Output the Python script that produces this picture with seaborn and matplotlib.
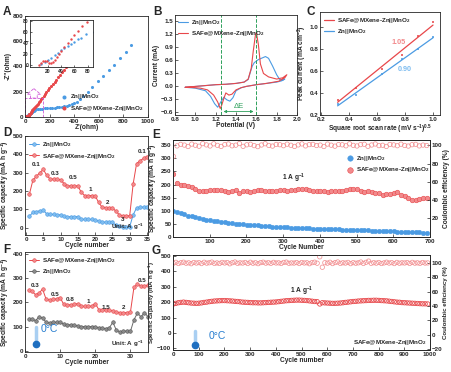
import numpy as np
import pandas as pd
import matplotlib
matplotlib.use("Agg")
import matplotlib.pyplot as plt
import seaborn as sns
from matplotlib.patches import Rectangle, FancyArrow
from matplotlib.lines import Line2D

# ---------------- data ----------------
# A : Nyquist
a_zn_x = [10, 15, 20, 25, 30, 35, 40, 45, 50, 55, 60, 65, 70, 78, 90, 105, 120, 140, 160, 180,
          200, 220, 240, 260, 280, 300, 320, 340, 360, 380, 400, 420, 445, 475, 510, 548,
          590, 635, 680, 725, 775, 820, 862]
a_zn_y = [2, 6, 10, 14, 18, 22, 27, 31, 35, 39, 43, 47, 50, 56, 60, 63, 65, 67, 68, 69,
          70, 72, 74, 76, 79, 82, 86, 91, 97, 104, 112, 122, 140, 165, 200, 240,
          282, 325, 370, 415, 465, 515, 571]
a_sa_x = [6, 9, 12, 15, 18, 21, 24, 27, 30, 33, 36, 40, 45, 50, 55, 60, 66, 72, 79, 86, 94,
          102, 111, 120, 130, 140, 151, 162, 174, 186, 199, 212, 226, 240, 255, 270, 286,
          302, 319, 336, 354, 372, 391, 410]
a_sa_y = [1, 5, 7, 8, 7, 5, 4, 6, 10, 15, 20, 26, 33, 40, 47, 55, 63, 72, 78, 85, 95,
          105, 116, 127, 139, 152, 166, 180, 195, 210, 226, 242, 259, 277, 295, 314, 334,
          354, 375, 396, 418, 440, 464, 488]

# B : CV curves (closed loops)
b_zn_v = [0.90, 1.00, 1.10, 1.20, 1.30, 1.40, 1.48, 1.52, 1.54, 1.56, 1.58, 1.62, 1.66, 1.69,
          1.72, 1.76, 1.80, 1.83, 1.86, 1.88, 1.85, 1.80, 1.70, 1.60, 1.50, 1.45, 1.40, 1.37,
          1.34, 1.31, 1.28, 1.25, 1.22, 1.19, 1.15, 1.10, 1.00, 0.90]
b_zn_i = [-0.04, -0.02, 0.00, 0.02, 0.03, 0.05, 0.08, 0.14, 0.30, 0.45, 0.53, 0.60, 0.64, 0.67,
          0.63, 0.45, 0.25, 0.14, 0.13, 0.15, 0.11, 0.08, 0.05, 0.02, -0.02, -0.05, -0.12, -0.28,
          -0.36, -0.33, -0.27, -0.38, -0.50, -0.42, -0.25, -0.12, -0.06, -0.04]
b_sa_v = [0.90, 1.00, 1.10, 1.20, 1.30, 1.40, 1.48, 1.52, 1.55, 1.57, 1.59, 1.60, 1.62, 1.64,
          1.67, 1.72, 1.80, 1.86, 1.90, 1.88, 1.82, 1.70, 1.60, 1.50, 1.45, 1.40, 1.36, 1.33,
          1.30, 1.28, 1.26, 1.245, 1.22, 1.18, 1.12, 1.05, 0.95, 0.90]
b_sa_i = [-0.04, -0.02, 0.00, 0.02, 0.03, 0.05, 0.08, 0.15, 0.40, 0.80, 1.15, 1.23, 0.95, 0.50,
          0.28, 0.20, 0.15, 0.18, 0.25, 0.18, 0.10, 0.05, 0.02, -0.02, -0.05, -0.10, -0.20, -0.22,
          -0.17, -0.30, -0.45, -0.53, -0.38, -0.22, -0.10, -0.06, -0.04, -0.04]
b_peaks = [1.25, 1.60]

# C : peak current vs sqrt scan rate
c_x = [0.316, 0.447, 0.632, 0.775, 0.894, 1.0]
c_sa = [0.34, 0.45, 0.62, 0.75, 0.92, 1.05]
c_zn = [0.30, 0.38, 0.57, 0.71, 0.80, 0.91]

# D : rate performance
d_cyc = list(range(1, 36))
d_zn = [63, 83, 88, 92, 95, 75, 72, 72, 70, 70, 62, 60, 60, 60, 60, 45, 45, 45, 45, 44,
        35, 30, 30, 30, 30, 12, 8, 5, 5, 5, 70, 108, 112, 112, 115]
d_sa = [185, 260, 280, 300, 318, 285, 265, 265, 263, 262, 240, 228, 228, 228, 228,
        192, 175, 175, 175, 174, 138, 112, 110, 110, 108, 90, 70, 65, 65, 65,
        238, 350, 365, 378, 388]
d_rates = ["0.1", "0.3", "0.5", "1", "2", "3", "0.1"]
d_rate_pos = [(3, 345), (8.5, 293), (13.5, 272), (18.5, 210), (23.5, 137), (28, 45), (33.6, 415)]

# E : long cycling 1 A/g
e_cyc = list(range(1, 701, 10))
e_sa = [240, 205, 200, 198, 195, 190, 185, 176, 175, 177,
        180, 178, 181, 178, 175, 172, 176, 178, 168, 176,
        174, 173, 176, 179, 178, 176, 174, 176, 175, 178,
        179, 177, 180, 180, 182, 185, 184, 180, 177, 175,
        176, 174, 172, 175, 176, 174, 176, 180, 183, 185,
        182, 175, 170, 176, 172, 166, 168, 162, 163, 165,
        168, 170, 162, 155, 150, 143, 140, 146, 150, 147]
e_zn = [100, 95, 90, 86, 82, 79, 76, 72, 69, 66,
        63, 61, 60, 58, 57, 55, 53, 51, 50, 48,
        47, 46, 45, 44, 43, 42, 41, 40, 39, 38,
        38, 37, 36, 35, 35, 34, 33, 33, 32, 32,
        31, 31, 30, 30, 29, 29, 28, 28, 27, 27,
        26, 26, 25, 25, 24, 24, 23, 23, 22, 21,
        21, 20, 20, 19, 19, 18, 18, 18, 17, 17]
e_ce = [88, 99.5, 101.2, 100.4, 98.8, 101.5, 100.2, 99.1, 102.0, 100.6,
        99.4, 101.8, 100.1, 98.9, 100.9, 101.6, 99.6, 100.3, 102.1, 99.0,
        100.7, 101.3, 99.8, 98.7, 100.5, 101.9, 100.0, 99.3, 101.1, 100.8,
        99.7, 101.4, 100.2, 98.9, 100.6, 101.7, 99.5, 100.9, 101.2, 99.9,
        100.4, 98.8, 101.5, 100.3, 99.2, 101.0, 100.7, 99.6, 101.8, 100.1,
        99.4, 100.9, 101.3, 99.0, 100.5, 101.6, 99.8, 100.2, 98.9, 101.1,
        100.6, 99.7, 101.4, 100.0, 99.3, 100.8, 101.2, 99.5, 100.4, 99.9]

# F : rate performance at 0 C
f_cyc = list(range(1, 36))
f_sa = [250, 245, 232, 238, 255, 213, 210, 212, 215, 220, 192, 190, 190, 192, 195,
        185, 183, 183, 185, 195, 170, 168, 168, 167, 165, 160, 158, 157, 158, 160,
        262, 275, 268, 267, 270]
f_zn = [130, 130, 125, 140, 135, 118, 115, 118, 117, 117, 110, 108, 107, 105, 103,
        100, 100, 100, 100, 100, 95, 93, 92, 95, 118, 85, 78, 80, 82, 80,
        128, 156, 140, 158, 140]
f_rates = ["0.3", "0.5", "0.8", "1", "1.5", "2", "0.5"]
f_rate_pos = [(3, 270), (8.5, 233), (13, 211), (18, 205), (23, 180), (28, 180), (33.3, 292)]

# G : long cycling at 0 C
g_cyc = list(range(1, 1001, 10))
g_sa = [188, 192, 196, 198, 200, 198, 196, 194, 193, 192,
        193, 195, 198, 200, 203, 205, 207, 208, 209, 210,
        210, 209, 208, 207, 205, 204, 202, 200, 199, 198,
        197, 196, 196, 195, 195, 196, 197, 198, 199, 200,
        201, 203, 205, 207, 209, 210, 211, 212, 213, 213,
        212, 211, 210, 208, 206, 204, 203, 188, 196, 195,
        194, 193, 192, 192, 193, 194, 196, 198, 200, 202,
        204, 205, 207, 208, 209, 210, 211, 211, 212, 212,
        211, 210, 209, 208, 206, 204, 202, 200, 199, 197,
        196, 195, 194, 193, 192, 191, 190, 189, 189, 188]
g_ce = [99.5, 100.8, 99.2, 100.3, 101.0, 99.6, 100.1, 98.9, 100.6, 99.8,
        100.4, 99.1, 100.9, 99.7, 100.2, 101.1, 99.4, 100.0, 99.3, 100.7,
        99.9, 100.5, 98.8, 100.3, 101.2, 99.5, 100.1, 99.8, 100.6, 99.2,
        100.9, 99.6, 100.2, 99.0, 100.4, 101.0, 99.7, 100.3, 99.4, 100.8,
        99.9, 100.1, 99.3, 100.7, 101.1, 99.5, 100.0, 99.8, 100.5, 99.2,
        100.6, 99.9, 100.2, 98.9, 100.4, 101.0, 99.6, 108.5, 94.0, 100.3,
        99.7, 100.9, 99.1, 100.5, 101.3, 99.4, 100.2, 99.8, 100.7, 99.0,
        100.4, 99.6, 100.1, 101.2, 99.3, 100.8, 102.5, 99.5, 100.3, 99.7,
        100.6, 99.2, 100.0, 101.0, 99.8, 100.4, 99.1, 100.7, 99.6, 100.2,
        99.9, 100.5, 99.3, 100.8, 99.7, 100.1, 99.4, 100.6, 99.8, 100.0]

# ---------------- style ----------------
sns.set_style("ticks")
plt.rcParams['font.family'] = ['Liberation Sans', 'DejaVu Sans']
plt.rcParams['font.weight'] = 'bold'
plt.rcParams['axes.labelweight'] = 'bold'
plt.rcParams['mathtext.default'] = 'regular'
plt.rcParams['axes.linewidth'] = 0.6

RED = "#e8474a"
RED_F = "#f28a8c"
BLUE = "#4b9be3"
BLUE_F = "#7fbdf0"
GREEN = "#2ca05a"
GRAY = "#6b6b6b"
FS = 4.5
LFS = 4.8
ZN = "Zn||MnO$_2$"
SA = "SAFe@MXene-Zn||MnO$_2$"
CAP = "Specific capacity (mA h g$^{-1}$)"
CE = "Coulombic efficiency (%)"

W, H = 451, 372
fig = plt.figure(figsize=(W / 100, H / 100), dpi=100)


def px_axes(l, t, r, b):
    return fig.add_axes([l / W, 1 - b / H, (r - l) / W, (b - t) / H])


def style(ax):
    ax.tick_params(direction='in', length=2, width=0.5, labelsize=FS, pad=1.2)
    for s in ax.spines.values():
        s.set_linewidth(0.6)
    ax.xaxis.label.set_size(LFS)
    ax.yaxis.label.set_size(LFS)
    ax.xaxis.labelpad = 0.5
    ax.yaxis.labelpad = 0.5


def legend(ax, **kw):
    opts = dict(frameon=False, fontsize=FS, handlelength=1.6, handletextpad=0.5,
                labelspacing=0.35, borderaxespad=0.3)
    opts.update(kw)
    return ax.legend(**opts)


# ---------------- A ----------------
ax = px_axes(25, 16, 148, 117)
sns.scatterplot(x=a_zn_x, y=a_zn_y, ax=ax, color=BLUE, s=5, linewidth=0, label=ZN)
sns.scatterplot(x=a_sa_x, y=a_sa_y, ax=ax, color=RED, s=5, linewidth=0, label=SA)
ax.set_xlim(0, 1000)
ax.set_ylim(0, 800)
ax.set_xticks([0, 200, 400, 600, 800, 1000])
ax.set_yticks([0, 200, 400, 600, 800])
ax.set_xlabel("Z'(ohm)")
ax.set_ylabel("-Z''(ohm)")
ax.add_patch(Rectangle((0, 0), 145, 150, fill=False, ls='--', lw=0.6, ec='#d05ad8'))
ax.add_patch(FancyArrow(72, 150, 0, 75, width=55, head_width=110, head_length=45,
                        fill=False, ls='--', lw=0.6, ec='#d05ad8', length_includes_head=True))
style(ax)
legend(ax, loc='lower right', markerscale=1.3, handlelength=1.0)

ins = px_axes(30, 20, 93, 67)
sns.scatterplot(x=a_zn_x, y=a_zn_y, ax=ins, color=BLUE, s=3, linewidth=0, legend=False)
sns.scatterplot(x=a_sa_x, y=a_sa_y, ax=ins, color=RED, s=3, linewidth=0, legend=False)
ins.set_xlim(-7, 88)
ins.set_ylim(-3, 82)
ins.set_xticks([20, 40, 60, 80])
ins.set_yticks([0, 20, 40, 60, 80])
style(ins)
ins.tick_params(labelsize=3.6, length=1.5)

# ---------------- B ----------------
ax = px_axes(175, 15, 297, 115)
ax.plot(b_zn_v, b_zn_i, color=BLUE, lw=0.8, label=ZN)
ax.plot(b_sa_v, b_sa_i, color=RED, lw=0.8, label=SA)
for v in b_peaks:
    ax.axvline(v, color=GREEN, ls='--', lw=0.7)
ax.annotate("", xy=(b_peaks[1], -0.6), xytext=(b_peaks[0], -0.6),
            arrowprops=dict(arrowstyle='<|-|>', color=GREEN, lw=0.6, mutation_scale=4))
ax.text(sum(b_peaks) / 2, -0.56, "ΔE", color=GREEN, fontsize=5.5, ha='center', va='bottom',
        fontweight='normal')
ax.set_xlim(0.8, 2.0)
ax.set_ylim(-0.68, 1.63)
ax.set_xticks([0.8, 1.0, 1.2, 1.4, 1.6, 1.8, 2.0])
ax.set_yticks([-0.6, -0.3, 0.0, 0.3, 0.6, 0.9, 1.2, 1.5])
ax.set_xlabel("Potential (V)")
ax.set_ylabel("Current (mA)")
style(ax)
legend(ax, loc='upper left', borderaxespad=0.1)

# ---------------- C ----------------
ax = px_axes(320, 12, 440, 115)
sns.regplot(x=c_x, y=c_sa, ax=ax, ci=None, marker='s', color=RED,
            scatter_kws=dict(s=4, linewidths=0), line_kws=dict(lw=0.9))
sns.regplot(x=c_x, y=c_zn, ax=ax, ci=None, marker='s', color=BLUE,
            scatter_kws=dict(s=4, linewidths=0), line_kws=dict(lw=0.9))
ax.text(0.75, 0.85, "1.05", color=RED_F, fontsize=5.2, ha='center')
ax.text(0.80, 0.60, "0.90", color=BLUE_F, fontsize=5.2, ha='center')
ax.set_xlim(0.19, 1.05)
ax.set_ylim(0.2, 1.14)
ax.set_xticks([0.2, 0.4, 0.6, 0.8, 1.0])
ax.set_yticks([0.2, 0.4, 0.6, 0.8, 1.0])
ax.set_xlabel("Square root scan rate (mV s$^{-1}$)$^{0.5}$")
ax.set_ylabel("Peak current (mA cm$^{-2}$)")
style(ax)
legend(ax, handles=[Line2D([], [], color=RED, lw=0.9), Line2D([], [], color=BLUE, lw=0.9)],
       labels=[SA, ZN], loc='upper left', borderaxespad=0.2)

# ---------------- D ----------------
ax = px_axes(25, 136, 148, 235)
sns.lineplot(x=d_cyc, y=d_zn, ax=ax, color=BLUE, lw=0.7, marker='o', ms=2.6,
             mfc=BLUE_F, mec=BLUE, mew=0.4, label=ZN)
sns.lineplot(x=d_cyc, y=d_sa, ax=ax, color=RED, lw=0.7, marker='o', ms=2.6,
             mfc=RED_F, mec=RED, mew=0.4, label=SA)
for t, (x, y) in zip(d_rates, d_rate_pos):
    ax.text(x, y, t, fontsize=FS, ha='center', va='center')
ax.text(0.97, 0.06, "Unit: A g$^{-1}$", transform=ax.transAxes, fontsize=FS, ha='right')
ax.set_xlim(-0.3, 35.3)
ax.set_ylim(-40, 500)
ax.set_xticks(range(0, 36, 5))
ax.set_yticks(range(0, 501, 100))
ax.set_xlabel("Cycle number")
ax.set_ylabel(CAP)
style(ax)
legend(ax, loc='upper left', borderaxespad=0.3)

# ---------------- E ----------------
ax = px_axes(173, 140, 430, 237)
ax2 = ax.twinx()
sns.scatterplot(x=e_cyc, y=e_ce, ax=ax2, s=10, marker='o', facecolor='none',
                edgecolor=RED_F, linewidth=0.5, legend=False)
sns.scatterplot(x=e_cyc, y=e_zn, ax=ax, s=11, color=BLUE, edgecolor=BLUE, linewidth=0.3,
                label=ZN)
sns.scatterplot(x=e_cyc, y=e_sa, ax=ax, s=11, color=RED_F, edgecolor=RED, linewidth=0.4,
                label=SA)
ax.text(330, 200, "1 A g$^{-1}$", fontsize=LFS, ha='center', va='bottom')
ax.set_xlim(0, 700)
ax.set_ylim(0, 370)
ax2.set_ylim(-1, 106)
ax.set_xticks(range(100, 701, 100))
ax.set_yticks(range(0, 351, 50))
ax2.set_yticks([20, 40, 60, 80, 100])
ax.set_xlabel("Cycle Number")
ax.set_ylabel(CAP)
ax2.set_ylabel(CE)
style(ax)
style(ax2)
legend(ax, loc='upper left', bbox_to_anchor=(0.66, 0.9), markerscale=1.2, handlelength=1.0)

# ---------------- F ----------------
ax = px_axes(25, 252, 148, 352)
sns.lineplot(x=f_cyc, y=f_sa, ax=ax, color=RED, lw=0.7, marker='o', ms=2.6,
             mfc=RED_F, mec=RED, mew=0.4, label=SA)
sns.lineplot(x=f_cyc, y=f_zn, ax=ax, color=GRAY, lw=0.7, marker='o', ms=2.6,
             mfc='#8a8a8a', mec='#555555', mew=0.4, label=ZN)
for t, (x, y) in zip(f_rates, f_rate_pos):
    ax.text(x, y, t, fontsize=FS, ha='center', va='center')
ax.text(0.97, 0.06, "Unit: A g$^{-1}$", transform=ax.transAxes, fontsize=FS, ha='right')
ax.text(0.13, 0.2, "0°C", transform=ax.transAxes, fontsize=7.5, color='#2a7fd0',
        fontweight='normal')
ax.plot([0.09, 0.09], [0.08, 0.25], transform=ax.transAxes, color='#a9cff2', lw=2.5,
        solid_capstyle='round')
ax.plot([0.09], [0.08], 'o', transform=ax.transAxes, color='#1f6fc0', ms=4.5)
ax.set_xlim(0, 35)
ax.set_ylim(-5, 408)
ax.set_xticks([0, 10, 20, 30])
ax.set_yticks(range(0, 401, 100))
ax.set_xlabel("Cycle number")
ax.set_ylabel(CAP)
style(ax)
legend(ax, loc='upper left', borderaxespad=0.2)

# ---------------- G ----------------
ax = px_axes(173, 255, 430, 350)
ax2 = ax.twinx()
sns.scatterplot(x=g_cyc, y=g_ce, ax=ax2, s=10, marker='o', facecolor='none',
                edgecolor=RED_F, linewidth=0.5, legend=False)
sns.scatterplot(x=g_cyc, y=g_sa, ax=ax, s=10, marker='o', facecolor='none',
                edgecolor=RED, linewidth=0.6, legend=False)
ax.text(500, 228, "1 A g$^{-1}$", fontsize=LFS, ha='center', va='bottom')
ax.text(0.985, 0.06, SA, transform=ax.transAxes, fontsize=FS, ha='right')
ax.text(0.14, 0.12, "0°C", transform=ax.transAxes, fontsize=7.5, color='#2a7fd0',
        fontweight='normal')
ax.plot([0.085, 0.085], [0.05, 0.2], transform=ax.transAxes, color='#a9cff2', lw=2.5,
        solid_capstyle='round')
ax.plot([0.085], [0.05], 'o', transform=ax.transAxes, color='#1f6fc0', ms=4.5)
ax.set_xlim(0, 1000)
ax.set_ylim(-110, 505)
ax2.set_ylim(-21, 111)
ax.set_xticks(range(0, 1001, 100))
ax.set_yticks(range(-100, 501, 100))
ax2.set_yticks(range(-20, 101, 20))
ax.set_xlabel("Cycle number")
ax.set_ylabel(CAP)
ax2.set_ylabel(CE)
style(ax)
style(ax2)
ax.yaxis.label.set_size(4.4)
ax2.yaxis.label.set_size(4.4)

# panel letters
for letter, (x, y) in zip("ABCDEFG", [(7, 12), (157, 12), (311, 12), (7, 133),
                                      (156, 135), (7, 250), (156, 251)]):
    fig.text(x / W, 1 - y / H, letter, fontsize=8.5, fontweight='bold', ha='center',
             va='center')

fig.savefig("out.png", dpi=100)
